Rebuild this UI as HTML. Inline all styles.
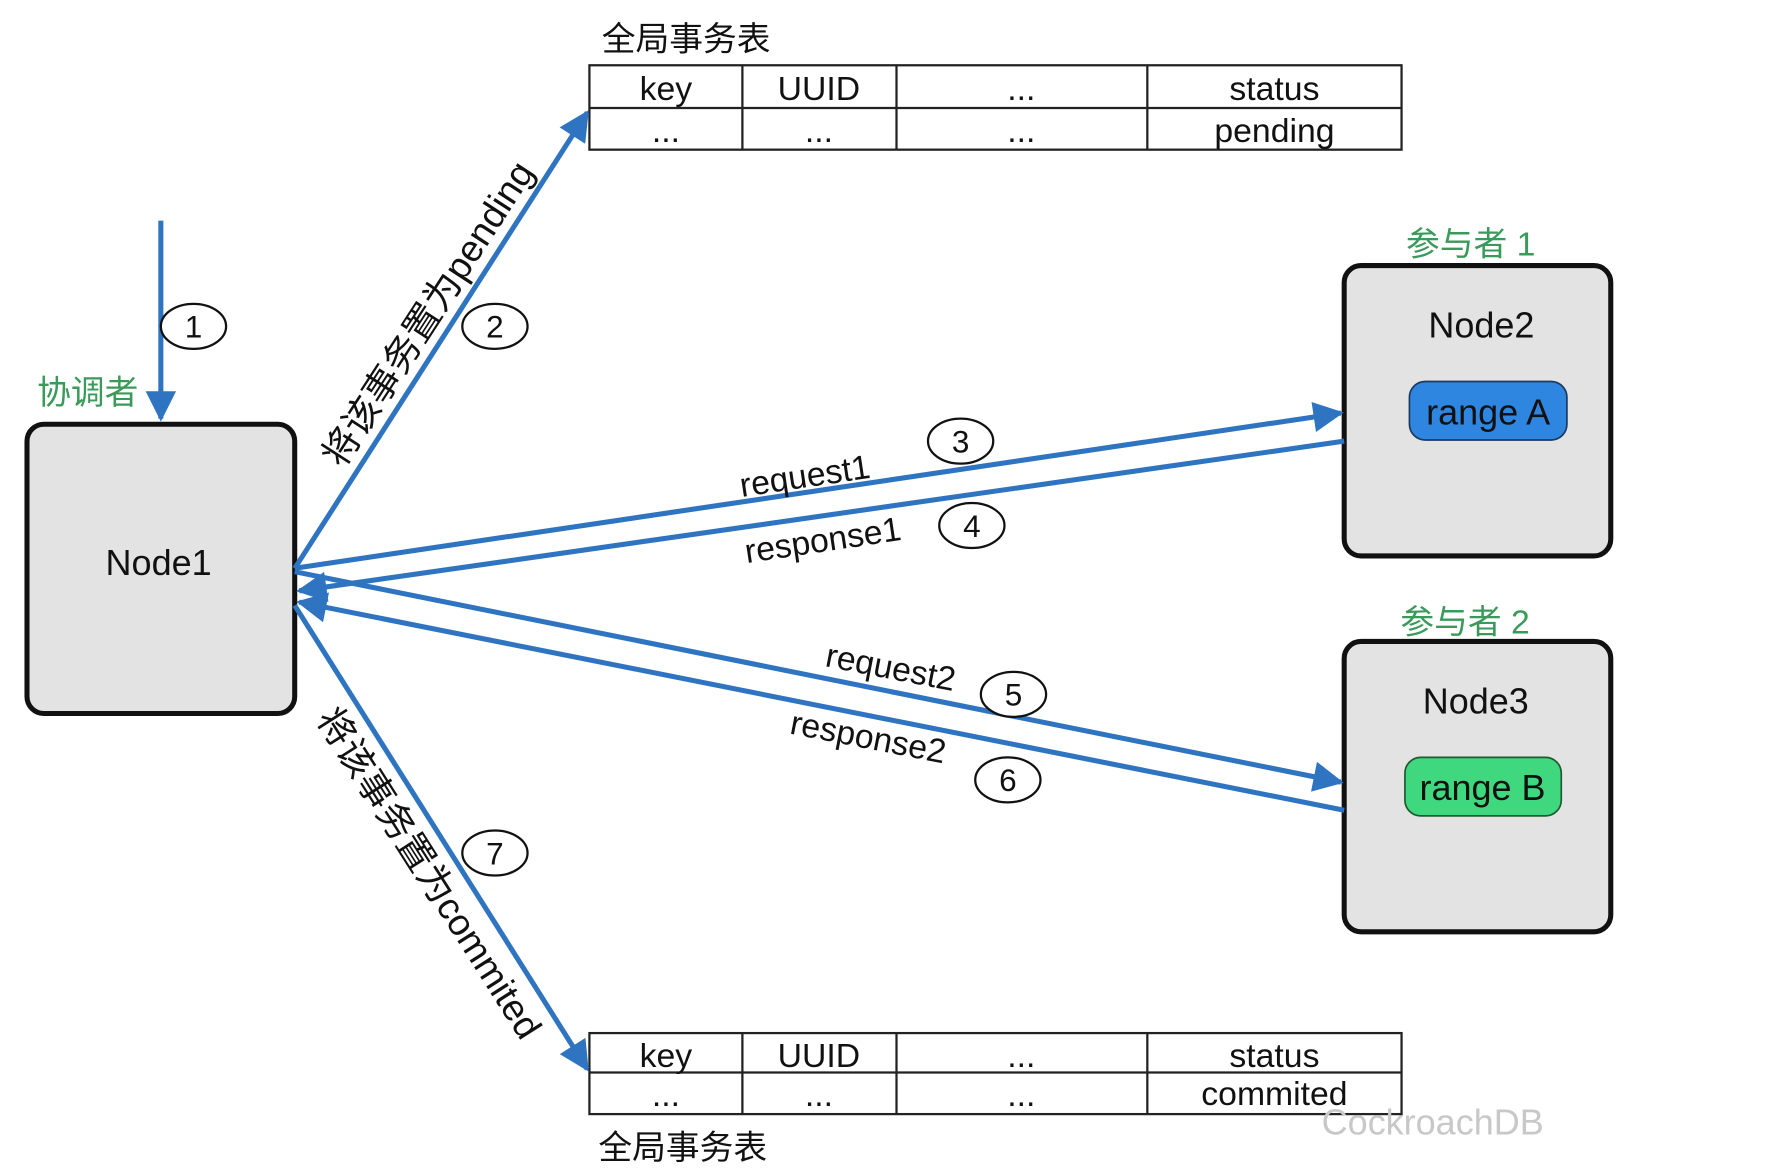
<!DOCTYPE html>
<html><head><meta charset="utf-8"><style>html,body{margin:0;padding:0;background:#fff}svg{display:block}</style></head>
<body>
<svg width="1766" height="1176" viewBox="0 0 1570 1045" preserveAspectRatio="none" xmlns="http://www.w3.org/2000/svg" font-family="Liberation Sans, Noto Sans CJK SC, sans-serif">
<defs>
<marker id="ah" viewBox="0 0 10 10" refX="9" refY="5" markerWidth="7" markerHeight="6" markerUnits="strokeWidth" orient="auto">
<path d="M0,0 L10,5 L0,10 z" fill="#2f74c0"/>
</marker>
</defs>
<!-- top table -->
<text x="535" y="45" font-size="30" fill="#111">全局事务表</text>
<g stroke="#222" stroke-width="2" fill="none">
<rect x="524" y="58" width="722" height="75"/>
<line x1="524" y1="96" x2="1246" y2="96"/>
<line x1="660" y1="58" x2="660" y2="133"/>
<line x1="797" y1="58" x2="797" y2="133"/>
<line x1="1020" y1="58" x2="1020" y2="133"/>
</g>
<g font-size="30" fill="#111" text-anchor="middle">
<text x="592" y="89">key</text><text x="728" y="89">UUID</text><text x="908" y="89">...</text><text x="1133" y="89">status</text>
<text x="592" y="126">...</text><text x="728" y="126">...</text><text x="908" y="126">...</text><text x="1133" y="126">pending</text>
</g>
<!-- bottom table -->
<g stroke="#222" stroke-width="2" fill="none">
<rect x="524" y="918" width="722" height="72"/>
<line x1="524" y1="953" x2="1246" y2="953"/>
<line x1="660" y1="918" x2="660" y2="990"/>
<line x1="797" y1="918" x2="797" y2="990"/>
<line x1="1020" y1="918" x2="1020" y2="990"/>
</g>
<g font-size="30" fill="#111" text-anchor="middle">
<text x="592" y="948">key</text><text x="728" y="948">UUID</text><text x="908" y="948">...</text><text x="1133" y="948">status</text>
<text x="592" y="983">...</text><text x="728" y="983">...</text><text x="908" y="983">...</text><text x="1133" y="982">commited</text>
</g>
<text x="532" y="1030" font-size="30" fill="#111">全局事务表</text>
<text x="1175" y="1008" font-size="32" fill="#c8c8c8">CockroachDB</text>
<!-- nodes -->
<g stroke="#111" stroke-width="4.5" fill="#e3e3e3">
<rect x="24" y="377" width="238" height="257" rx="15"/>
<rect x="1195" y="236" width="237" height="258" rx="15"/>
<rect x="1195" y="570" width="237" height="258" rx="15"/>
</g>
<rect x="1253" y="339" width="140" height="52" rx="14" fill="#2f86e0" stroke="#1a3a60" stroke-width="1.5"/>
<rect x="1249" y="673" width="139" height="52" rx="14" fill="#3fd87e" stroke="#1f5a30" stroke-width="1.5"/>
<g font-size="32" fill="#111" text-anchor="middle">
<text x="141" y="511">Node1</text>
<text x="1317" y="300">Node2</text>
<text x="1312" y="634">Node3</text>
<text x="1323" y="377">range A</text>
<text x="1318" y="711">range B</text>
</g>
<g font-size="30" fill="#3a9a5a">
<text x="1250" y="227">参与者 1</text>
<text x="1245" y="563">参与者 2</text>
<text x="33" y="359">协调者</text>
</g>
<!-- arrows -->
<g stroke="#2f74c0" stroke-width="4.5" fill="none" marker-end="url(#ah)">
<line x1="143" y1="196" x2="143" y2="372"/>
<line x1="262" y1="505" x2="522" y2="100"/>
<line x1="262" y1="505" x2="1192" y2="367"/>
<line x1="1195" y1="392" x2="266" y2="525"/>
<line x1="262" y1="508" x2="1192" y2="695"/>
<line x1="1195" y1="720" x2="266" y2="535"/>
<line x1="262" y1="538" x2="522" y2="950"/>
</g>
<!-- circles -->
<g stroke="#111" stroke-width="2" fill="#fff">
<ellipse cx="172" cy="290" rx="29" ry="20"/>
<ellipse cx="440" cy="290" rx="29" ry="20"/>
<ellipse cx="854" cy="392" rx="29" ry="20"/>
<ellipse cx="864" cy="467" rx="29" ry="20"/>
<ellipse cx="901" cy="617" rx="29" ry="20"/>
<ellipse cx="896" cy="693" rx="29" ry="20"/>
<ellipse cx="440" cy="758" rx="29" ry="20"/>
</g>
<g font-size="28" fill="#111" text-anchor="middle">
<text x="172" y="300">1</text><text x="440" y="300">2</text><text x="854" y="402">3</text>
<text x="864" y="477">4</text><text x="901" y="627">5</text><text x="896" y="703">6</text><text x="440" y="768">7</text>
</g>
<!-- rotated labels -->
<g font-size="30" fill="#111" text-anchor="middle">
<text transform="translate(717,433) rotate(-8.5)">request1</text>
<text transform="translate(733,490) rotate(-8.5)">response1</text>
<text transform="translate(790,603) rotate(11)">request2</text>
<text transform="translate(770,665) rotate(11)">response2</text>
<text font-size="33" transform="translate(390,285) rotate(-57)">将该事务置为pending</text>
<text font-size="33" transform="translate(372,782) rotate(57.5)">将该事务置为commited</text>
</g>
</svg>
</body></html>
